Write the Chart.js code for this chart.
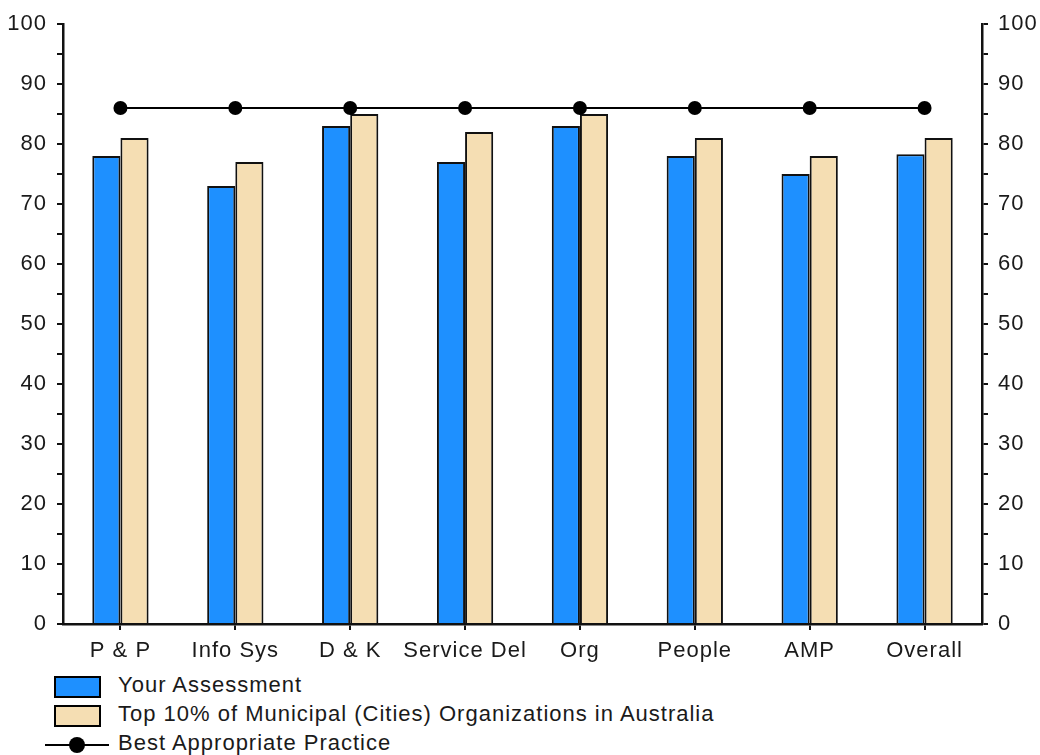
<!DOCTYPE html>
<html>
<head>
<meta charset="utf-8">
<title>Assessment chart</title>
<script src="https://cdn.jsdelivr.net/npm/chart.js@4.4.0/dist/chart.umd.min.js"></script>
<style>
    body { margin: 0; background: #fff; font-family: "Liberation Sans", Arial, sans-serif; }
    #wrap { position: relative; width: 1040px; height: 755px; overflow: hidden; }
    #chartBox { position: absolute; left: 0; top: 0; width: 1040px; height: 670px; }
    .lg-box { position: absolute; left: 54px; width: 47px; height: 22px; box-sizing: border-box; border: 2px solid #000; }
    .lg-text { position: absolute; left: 118px; font-size: 22px; line-height: 24px; letter-spacing: 1px; color: #1a1a1a; white-space: nowrap; }
    .lg-line { position: absolute; left: 45px; width: 64px; height: 2px; background: #000; }
    .lg-dot { position: absolute; left: 69px; width: 16px; height: 16px; border-radius: 50%; background: #000; }
</style>
</head>
<body>
<div id="wrap">
    <div id="chartBox"><canvas id="mainChart"></canvas></div>

    <div class="lg-box" style="top:676px; background:#1E90FF;"></div>
    <div class="lg-text" style="top:673px;">Your Assessment</div>

    <div class="lg-box" style="top:705px; background:#F5DEB3;"></div>
    <div class="lg-text" style="top:702px;">Top 10% of Municipal (Cities) Organizations in Australia</div>

    <div class="lg-line" style="top:744px;"></div>
    <div class="lg-dot" style="top:737px;"></div>
    <div class="lg-text" style="top:731px;">Best Appropriate Practice</div>
</div>

<script>
// Data
const categories = ['P & P', 'Info Sys', 'D & K', 'Service Del', 'Org', 'People', 'AMP', 'Overall'];
const yourAssessment = [78, 73, 83, 77, 83, 78, 75, 78.3];
const top10Percent = [81, 77, 85, 82, 85, 81, 78, 81];
const bestPractice = [86, 86, 86, 86, 86, 86, 86, 86];
const yMin = 0;
const yMax = 100;
const yStep = 5;

const fontFamily = '"Liberation Sans", Arial, sans-serif';

// slightly wider text spacing like the reference
const letterSpacingPlugin = {
    id: 'letterSpacing',
    beforeLayout(chart) { chart.ctx.letterSpacing = '1px'; },
    beforeDraw(chart) { chart.ctx.letterSpacing = '1px'; }
};

function yAxis(position, width) {
    return {
        type: 'linear',
        position: position,
        min: yMin,
        max: yMax,
        ticks: {
            stepSize: yStep,
            color: '#1a1a1a',
            padding: 10,
            font: { size: 22, family: fontFamily },
            callback: function(value) {
                return value % 10 === 0 ? value : '';
            }
        },
        grid: {
            drawOnChartArea: false,
            drawTicks: true,
            tickLength: 6,
            color: '#111',
            lineWidth: 2
        },
        border: { color: '#111', width: 2.5 },
        afterFit: function(scale) { scale.width = width; }
    };
}

const ctx = document.getElementById('mainChart').getContext('2d');
const mainChart = new Chart(ctx, {
    type: 'bar',
    data: {
        labels: categories,
        datasets: [
            {
                type: 'line',
                label: 'Best Appropriate Practice',
                data: bestPractice,
                borderColor: '#000',
                borderWidth: 2,
                pointRadius: 7,
                pointBackgroundColor: '#000',
                pointBorderWidth: 0,
                yAxisID: 'y',
                order: 0
            },
            {
                label: 'Your Assessment',
                data: yourAssessment,
                backgroundColor: '#1E90FF',
                borderColor: '#111',
                borderWidth: 2,
                yAxisID: 'y',
                order: 1
            },
            {
                label: 'Top 10% of Municipal (Cities) Organizations in Australia',
                data: top10Percent,
                backgroundColor: '#F5DEB3',
                borderColor: '#111',
                borderWidth: 2,
                yAxisID: 'y',
                order: 1
            }
        ]
    },
    options: {
        responsive: true,
        maintainAspectRatio: false,
        animation: false,
        categoryPercentage: 0.49,
        barPercentage: 1.0,
        layout: { padding: { top: 24 } },
        plugins: {
            legend: { display: false },
            tooltip: { enabled: false }
        },
        scales: {
            x: {
                offset: true,
                ticks: {
                    color: '#1a1a1a',
                    padding: 8,
                    maxRotation: 0,
                    autoSkip: false,
                    font: { size: 22, family: fontFamily }
                },
                grid: {
                    offset: false,
                    drawOnChartArea: false,
                    drawTicks: true,
                    tickLength: 6,
                    color: '#111',
                    lineWidth: 2
                },
                border: { color: '#111', width: 2.5 },
                afterFit: function(scale) { scale.height = 46; }
            },
            y: yAxis('left', 63),
            y2: yAxis('right', 58)
        }
    },
    plugins: [letterSpacingPlugin]
});
</script>
</body>
</html>
